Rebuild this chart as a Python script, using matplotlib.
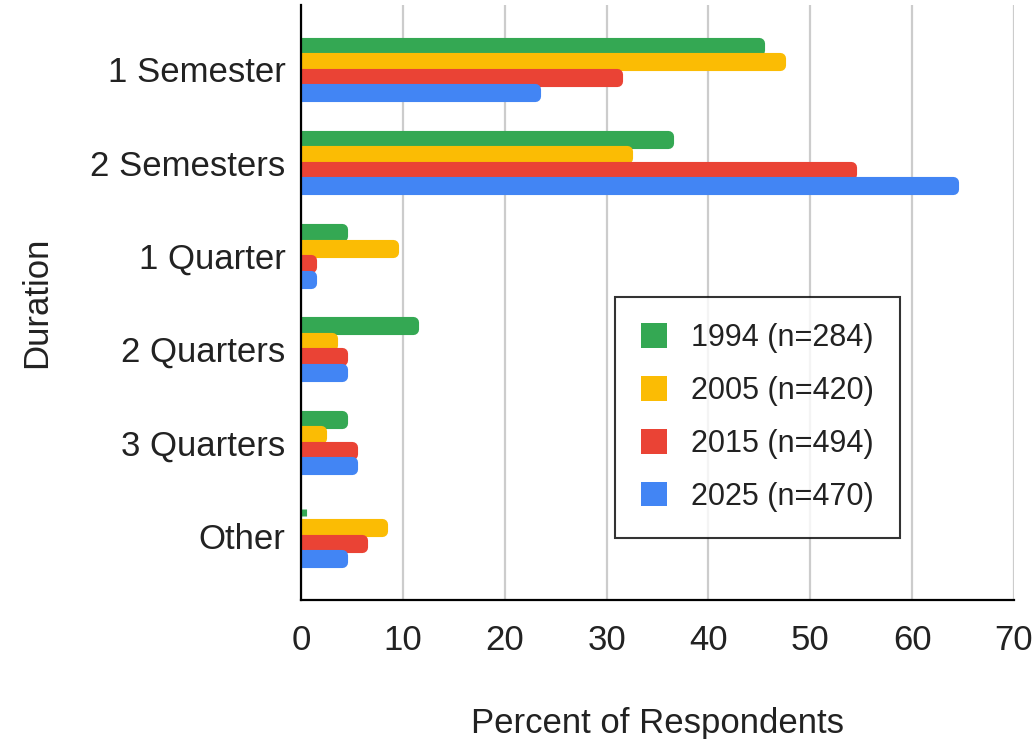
import numpy as np
import matplotlib
matplotlib.use("Agg")
from matplotlib import pyplot as plt

categories = ["1 Semester", "2 Semesters", "1 Quarter", "2 Quarters", "3 Quarters", "Other"]
series_names = ["1994 (n=284)", "2005 (n=420)", "2015 (n=494)", "2025 (n=470)"]
v1994 = [45, 36, 4, 11, 4, 0]
v2005 = [47, 32, 9, 3, 2, 8]
v2015 = [31, 54, 1, 4, 5, 6]
v2025 = [23, 64, 1, 4, 5, 4]
colors = ["#34A853", "#FBBC04", "#EA4335", "#4285F4"]

plt.rcParams['font.family'] = ['Liberation Sans', 'DejaVu Sans']

fig = plt.figure(figsize=(10.34, 7.39), dpi=100)
ax = fig.add_axes([0.2911, 0.1881, 0.6896, 0.8051])

y = np.arange(len(categories))
slot = 0.166
edge = 8  # points, gives the rounded bar ends
thick = slot - 0.09
for i, vals in enumerate([v1994, v2005, v2015, v2025]):
    ax.barh(y + (i - 1.5) * slot, vals, height=thick, color=colors[i],
            edgecolor=colors[i], linewidth=edge, joinstyle='round',
            label=series_names[i], zorder=3)

ax.set_xlim(0, 70)
ax.set_ylim(5.69, -0.69)
ax.set_xticks(range(0, 71, 10))
ax.set_yticks(y)
ax.set_yticklabels(categories)
ax.tick_params(axis='both', length=0, labelsize=25, colors='#222222')
ax.tick_params(axis='x', pad=17)
ax.tick_params(axis='y', pad=11)
ax.xaxis.grid(True, color='#cccccc', linewidth=1.6, zorder=0)
ax.set_axisbelow(True)
for s in ['top', 'right']:
    ax.spines[s].set_visible(False)
ax.spines['left'].set_linewidth(1.6)
ax.spines['bottom'].set_linewidth(1.6)
ax.spines['left'].set_zorder(4)

ax.set_xlabel("Percent of Respondents", fontsize=25, color='#222222', labelpad=36)
ax.set_ylabel("Duration", fontsize=25, color='#222222', labelpad=27)

leg = ax.legend(loc='upper left', bbox_to_anchor=(0.44, 0.509), fontsize=22,
                frameon=True, fancybox=False, edgecolor='black',
                handlelength=0.85, handleheight=0.85, handletextpad=0.8,
                labelspacing=0.75, borderpad=0.85, borderaxespad=0)
leg.get_frame().set_linewidth(1.5)
for h in leg.legend_handles:
    h.set_linewidth(0)
for t in leg.get_texts():
    t.set_color('#222222')

fig.savefig("out.png", dpi=100)
